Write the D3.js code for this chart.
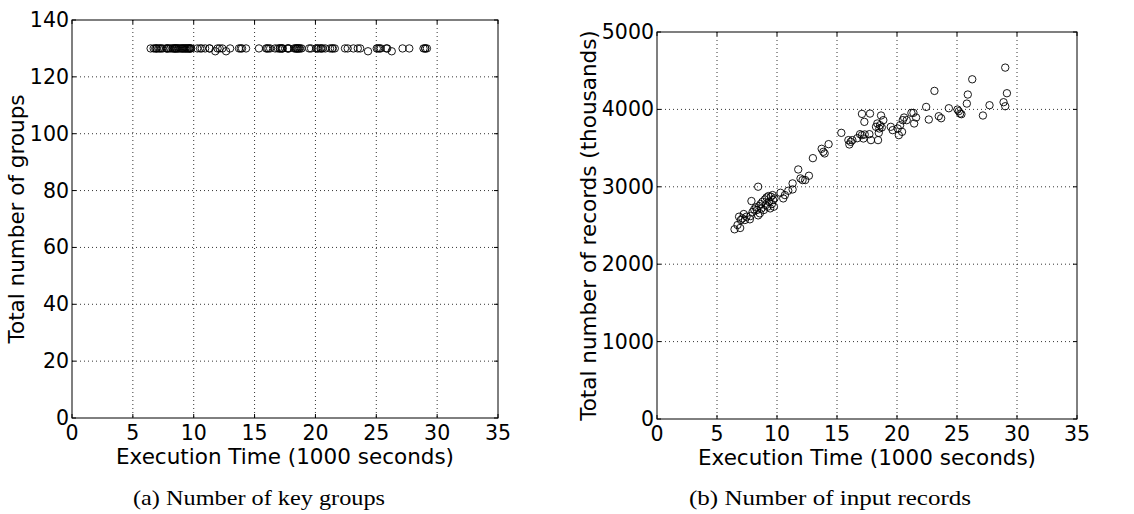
<!DOCTYPE html>
<html>
<head>
<meta charset="utf-8">
<script src="https://cdn.jsdelivr.net/npm/d3@7"></script>
<style>
  body { margin: 0; background: #fff; }
  svg { display: block; }
  .tick-label { font-family: "DejaVu Sans", sans-serif; font-size: 20.5px; fill: #000; }
  .axis-title { font-family: "DejaVu Sans", sans-serif; font-size: 21.5px; fill: #000; }
  .caption { font-family: "Liberation Serif", serif; font-size: 21px; fill: #000; }
</style>
</head>
<body>
<div id="chart"></div>
<script>
// execution time of each run (1000 seconds)
var execTime = [
  6.46, 6.71, 6.93, 6.84, 6.98, 7.12, 7.23, 7.32, 7.46, 7.74,
  7.79, 7.87, 7.96, 8.10, 8.24, 8.43, 8.43, 8.51, 8.63, 8.71,
  8.79, 8.90, 8.99, 9.07, 9.13, 9.21, 9.29, 9.35, 9.43, 9.49,
  9.57, 9.63, 9.68, 9.74, 9.79, 8.32, 8.57,
  10.29, 10.52, 10.66, 10.94, 11.30, 11.30, 11.77, 11.96, 12.13, 12.35,
  12.66, 12.99, 13.72, 13.86, 13.97, 14.30, 15.36, 15.95, 16.03, 16.14,
  16.28, 16.69, 16.92, 17.08, 17.08, 17.20, 17.28, 17.31, 17.70, 17.75,
  17.83, 18.25, 18.36, 18.42, 18.48, 18.53, 18.59, 18.67, 18.73, 18.86,
  19.48, 19.64, 20.06, 20.15, 20.26, 20.42, 20.48, 20.59, 20.81, 21.20,
  21.37, 21.43, 21.59, 22.43, 22.65, 23.12, 23.48, 23.68, 24.32, 25.04,
  25.15, 25.26, 25.37, 25.82, 25.90, 26.27, 27.16, 27.71, 28.88, 29.02,
  29.02, 29.16
];

// total number of key groups per run
var groups = [
  130, 130, 130, 130, 130, 130, 130, 130, 130, 130,
  130, 130, 130, 130, 130, 130, 130, 130, 130, 130,
  130, 130, 130, 130, 130, 130, 130, 130, 130, 130,
  130, 130, 130, 130, 130, 130, 130,
  130, 130, 130, 130, 130, 130, 129, 130, 130, 130,
  129, 130, 130, 130, 130, 130, 130, 130, 130, 130,
  130, 130, 130, 130, 130, 130, 130, 130, 130, 130,
  130, 130, 130, 130, 130, 130, 130, 130, 130, 130,
  130, 130, 130, 130, 130, 130, 130, 130, 130, 130,
  130, 130, 130, 130, 130, 130, 130, 130, 129, 130,
  130, 130, 130, 130, 130, 129, 130, 130, 130, 130,
  130, 130
];

// total number of input records per run (thousands)
var records = [
  2451, 2506, 2468, 2614, 2571, 2592, 2648, 2571, 2614, 2580,
  2622, 2816, 2674, 2708, 2734, 3001, 2631, 2751, 2777, 2721,
  2807, 2700, 2837, 2764, 2863, 2743, 2880, 2807, 2721, 2872,
  2777, 2893, 2829, 2743, 2850, 2700, 2657,
  2923, 2850, 2893, 2949, 2966, 3044, 3224, 3108, 3087, 3087,
  3143, 3370, 3491, 3452, 3431, 3551, 3697, 3603, 3547, 3581,
  3603, 3628, 3680, 3942, 3667, 3624, 3839, 3676, 3680, 3946,
  3603, 3775, 3818, 3603, 3697, 3753, 3796, 3921, 3766, 3861,
  3775, 3732, 3753, 3667, 3796, 3710, 3861, 3895, 3861, 3955,
  3955, 3818, 3895, 4032, 3869, 4239, 3912, 3886, 4015, 3998,
  3977, 3946, 3938, 4075, 4192, 4389, 3921, 4054, 4093, 4540,
  4041, 4209
];

var xTicks = [0, 5, 10, 15, 20, 25, 30, 35];
var groupTicks = [0, 20, 40, 60, 80, 100, 120, 140];
var recordTicks = [0, 1000, 2000, 3000, 4000, 5000];

var svgWidth = 1134;
var svgHeight = 514;

var svg = d3.select("#chart")
  .append("svg")
  .attr("width", svgWidth)
  .attr("height", svgHeight);

// draw one scatter panel
function drawPanel(opt) {
  var x = d3.scaleLinear().domain([0, 35]).range([opt.left, opt.right]);
  var y = d3.scaleLinear().domain(opt.yDomain).range([opt.bottom, opt.top]);
  var g = svg.append("g");

  // dotted grid
  g.selectAll(".vgrid").data(xTicks.slice(1, -1)).enter()
    .append("line")
    .attr("x1", d => x(d)).attr("x2", d => x(d))
    .attr("y1", opt.top).attr("y2", opt.bottom)
    .attr("stroke", "#000").attr("stroke-width", 0.8)
    .attr("stroke-dasharray", "1,3");
  g.selectAll(".hgrid").data(opt.yTicks.slice(1, -1)).enter()
    .append("line")
    .attr("x1", opt.left).attr("x2", opt.right)
    .attr("y1", d => y(d)).attr("y2", d => y(d))
    .attr("stroke", "#000").attr("stroke-width", 0.8)
    .attr("stroke-dasharray", "1,3");

  // inward ticks on all four sides
  var tk = 4;
  g.selectAll(".xt").data(xTicks).enter().append("path")
    .attr("d", d => `M${x(d)},${opt.bottom}v${-tk}M${x(d)},${opt.top}v${tk}`)
    .attr("stroke", "#000").attr("stroke-width", 1);
  g.selectAll(".yt").data(opt.yTicks).enter().append("path")
    .attr("d", d => `M${opt.left},${y(d)}h${tk}M${opt.right},${y(d)}h${-tk}`)
    .attr("stroke", "#000").attr("stroke-width", 1);

  // points
  g.selectAll("circle").data(opt.values).enter()
    .append("circle")
    .attr("cx", (d, i) => x(execTime[i]))
    .attr("cy", d => y(d))
    .attr("r", 3.7)
    .attr("fill", "none")
    .attr("stroke", "#000")
    .attr("stroke-width", 0.9);

  // frame
  g.append("rect")
    .attr("x", opt.left).attr("y", opt.top)
    .attr("width", opt.right - opt.left).attr("height", opt.bottom - opt.top)
    .attr("fill", "none").attr("stroke", "#000").attr("stroke-width", 1);

  // tick labels
  g.selectAll(".xl").data(xTicks).enter().append("text")
    .attr("class", "tick-label")
    .attr("x", d => x(d)).attr("y", opt.bottom + 22)
    .attr("text-anchor", "middle")
    .text(d => d);
  g.selectAll(".yl").data(opt.yTicks).enter().append("text")
    .attr("class", "tick-label")
    .attr("x", opt.left - 3).attr("y", d => y(d) + 7)
    .attr("text-anchor", "end")
    .text(d => d);

  // axis titles
  g.append("text").attr("class", "axis-title")
    .attr("x", (opt.left + opt.right) / 2).attr("y", opt.bottom + 46)
    .attr("text-anchor", "middle")
    .text("Execution Time (1000 seconds)");
  g.append("text").attr("class", "axis-title")
    .attr("transform", `translate(${opt.yTitleX},${(opt.top + opt.bottom) / 2}) rotate(-90)`)
    .attr("text-anchor", "middle")
    .text(opt.yTitle);

  // caption
  g.append("text").attr("class", "caption")
    .attr("x", opt.captionX).attr("y", 505)
    .attr("text-anchor", "middle")
    .attr("textLength", opt.captionW)
    .attr("lengthAdjust", "spacingAndGlyphs")
    .text(opt.caption);
}

drawPanel({
  left: 72, right: 498, top: 20, bottom: 418,
  yDomain: [0, 140], yTicks: groupTicks, values: groups,
  yTitle: "Total number of groups", yTitleX: 24,
  caption: "(a) Number of key groups", captionX: 259, captionW: 252
});

drawPanel({
  left: 657, right: 1077, top: 32, bottom: 419,
  yDomain: [0, 5000], yTicks: recordTicks, values: records,
  yTitle: "Total number of records (thousands)", yTitleX: 596,
  caption: "(b) Number of input records", captionX: 830, captionW: 282
});
</script>
</body>
</html>
